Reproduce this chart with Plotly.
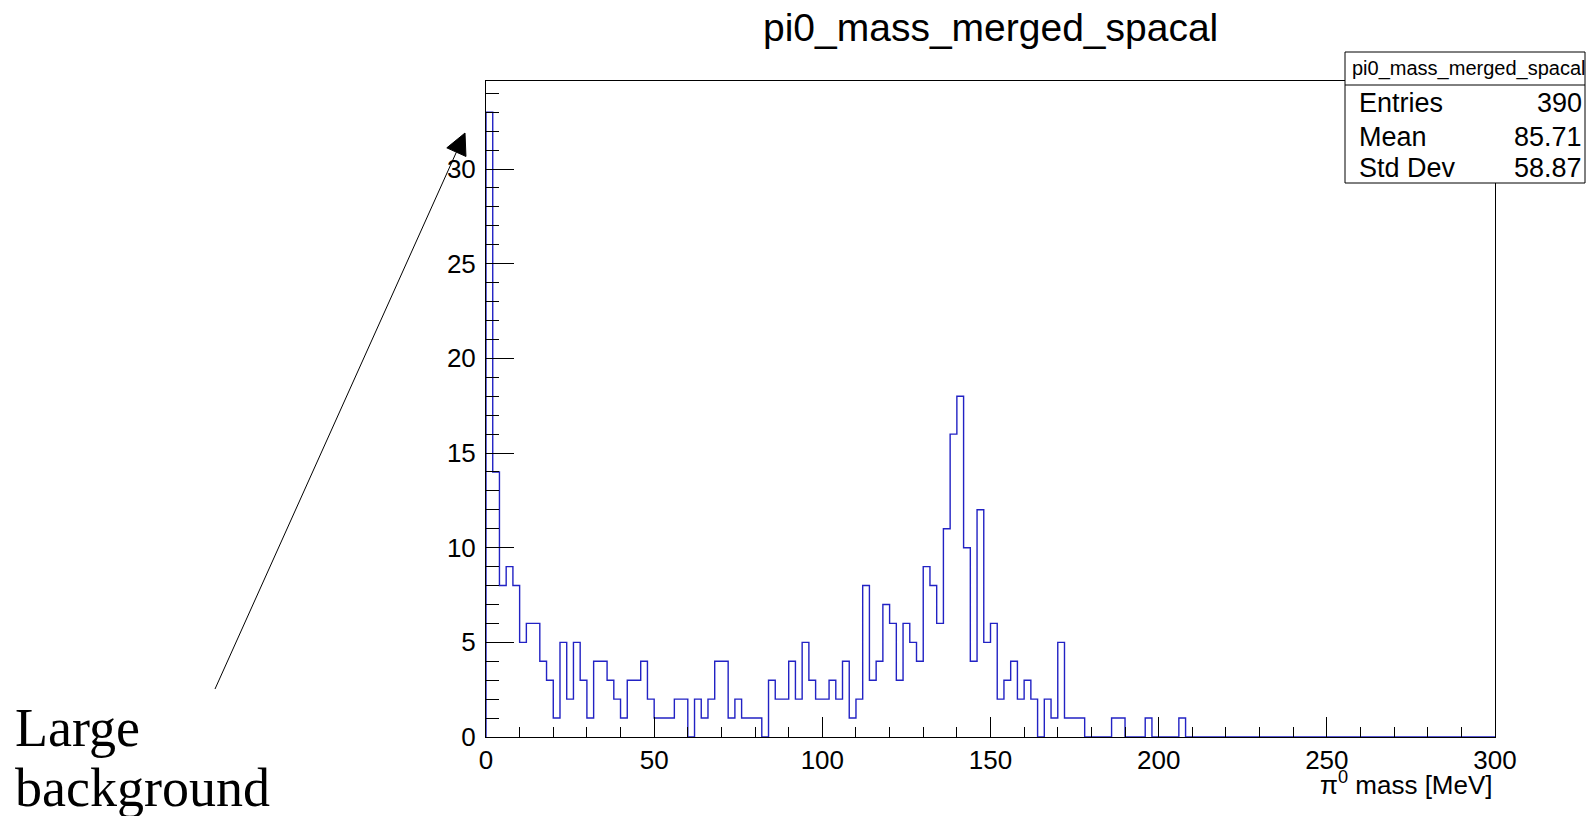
import math
import plotly.graph_objects as go

# ---- histogram content: 150 bins of 2 MeV between 0 and 300 MeV ----
x_min, x_max, n_bins = 0.0, 300.0, 150
counts = [
    33, 14, 8, 9, 8, 5, 6, 6, 4, 3,
    1, 5, 2, 5, 3, 1, 4, 4, 3, 2,
    1, 3, 3, 4, 2, 1, 1, 1, 2, 2,
    0, 2, 1, 2, 4, 4, 1, 2, 1, 1,
    1, 0, 3, 2, 2, 4, 2, 5, 3, 2,
    2, 3, 2, 4, 1, 2, 8, 3, 4, 7,
    6, 3, 6, 5, 4, 9, 8, 6, 11, 16,
    18, 10, 4, 12, 5, 6, 2, 3, 4, 2,
    3, 2, 0, 2, 1, 5, 1, 1, 1, 0,
    0, 0, 0, 1, 1, 0, 0, 0, 1, 0,
    0, 0, 0, 1, 0, 0, 0, 0, 0, 0,
    0, 0, 0, 0, 0, 0, 0, 0, 0, 0,
    0, 0, 0, 0, 0, 0, 0, 0, 0, 0,
    0, 0, 0, 0, 0, 0, 0, 0, 0, 0,
    0, 0, 0, 0, 0, 0, 0, 0, 0, 0,
]

hist_name = "pi0_mass_merged_spacal"
stat_labels = ["Entries", "Mean", "Std Dev"]
stat_values = ["390", "85.71", "58.87"]
x_title = "\u03c0<sup>0</sup> mass [MeV]"
note_lines = ["Large", "background"]

# ---- page geometry (pixels) ----
W, H = 1586, 816
PLOT_L, PLOT_R, PLOT_T, PLOT_B = 486, 1495, 81, 737
y_top = max(counts) * 1.05

def fx(px):
    return (px - PLOT_L) / (PLOT_R - PLOT_L)

def fy(py):
    return (PLOT_B - py) / (PLOT_B - PLOT_T)

bw = (x_max - x_min) / n_bins
edges = [x_min + i * bw for i in range(n_bins + 1)]

# step outline: start on the baseline, climb to each bin top, close back down
xs = [edges[0]] + edges[:-1] + [edges[-1]]
ys = [0] + counts + [0]

fig = go.Figure()
fig.add_trace(go.Scatter(
    x=xs, y=ys, mode="lines",
    line=dict(color="#2222c4", width=1.4, shape="hv"),
    hoverinfo="skip", showlegend=False,
))

SANS = "Liberation Sans, Arial, Helvetica, sans-serif"
SERIF = "Liberation Serif, Times New Roman, serif"

fig.update_layout(
    width=W, height=H, autosize=False,
    margin=dict(l=PLOT_L, r=W - PLOT_R, t=PLOT_T, b=H - PLOT_B, pad=0),
    paper_bgcolor="white", plot_bgcolor="white",
    showlegend=False,
)

fig.update_xaxes(
    range=[x_min, x_max], showgrid=False, zeroline=False,
    showline=True, linecolor="black", linewidth=1, mirror=True,
    ticks="inside", ticklen=20, tickwidth=1, tickcolor="black",
    tick0=0, dtick=50, ticklabelstandoff=0,
    tickfont=dict(family=SANS, size=26, color="black"),
    minor=dict(ticks="inside", ticklen=10, tickwidth=1, tickcolor="black", dtick=10, tick0=0),
)
fig.update_yaxes(
    range=[0, y_top], showgrid=False, zeroline=False,
    showline=True, linecolor="black", linewidth=1, mirror=True,
    ticks="inside", ticklen=28, tickwidth=1, tickcolor="black",
    tick0=0, dtick=5, ticklabelstandoff=4,
    tickfont=dict(family=SANS, size=26, color="black"),
    minor=dict(ticks="inside", ticklen=13, tickwidth=1, tickcolor="black", dtick=1, tick0=0),
)

shapes = []
annotations = []

# title above the frame
annotations.append(dict(
    text=hist_name, xref="paper", yref="paper",
    x=fx((PLOT_L + PLOT_R) / 2), y=fy(28), xanchor="center", yanchor="middle",
    showarrow=False, font=dict(family=SANS, size=39, color="black"),
))

# x axis title, right aligned under the frame
annotations.append(dict(
    text=x_title, xref="paper", yref="paper",
    x=fx(PLOT_R), y=fy(783), xanchor="right", yanchor="middle",
    showarrow=False, font=dict(family=SANS, size=26, color="black"),
))

# statistics box
box_l, box_r, box_t, box_head, box_b = 1345, 1585, 52, 85, 183
shapes.append(dict(
    type="rect", xref="paper", yref="paper",
    x0=fx(box_l), x1=fx(box_r), y0=fy(box_b), y1=fy(box_t),
    line=dict(color="black", width=1), fillcolor="white", layer="above",
))
shapes.append(dict(
    type="line", xref="paper", yref="paper",
    x0=fx(box_l), x1=fx(box_r), y0=fy(box_head), y1=fy(box_head),
    line=dict(color="black", width=1), layer="above",
))
annotations.append(dict(
    text=hist_name, xref="paper", yref="paper",
    x=fx((box_l + box_r) / 2 + 3), y=fy(69), xanchor="center", yanchor="middle",
    showarrow=False, font=dict(family=SANS, size=20, color="black"),
))
row_centres = [103, 136.5, 167.5]
for lab, val, yc in zip(stat_labels, stat_values, row_centres):
    annotations.append(dict(
        text=lab, xref="paper", yref="paper", x=fx(1357), y=fy(yc),
        xanchor="left", yanchor="middle", showarrow=False,
        font=dict(family=SANS, size=27, color="black"),
    ))
    annotations.append(dict(
        text=val, xref="paper", yref="paper", x=fx(1584), y=fy(yc),
        xanchor="right", yanchor="middle", showarrow=False,
        font=dict(family=SANS, size=27, color="black"),
    ))

# hand-drawn style arrow pointing at the first bins
tail = (215.0, 689.0)
tip = (465.0, 133.0)
head_len, head_half = 21.0, 10.5
dx, dy = tip[0] - tail[0], tip[1] - tail[1]
L = math.hypot(dx, dy)
ux, uy = dx / L, dy / L
bx, by = tip[0] - head_len * ux, tip[1] - head_len * uy
nx, ny = -uy, ux
p1 = (bx + head_half * nx, by + head_half * ny)
p2 = (bx - head_half * nx, by - head_half * ny)
shapes.append(dict(
    type="line", xref="paper", yref="paper",
    x0=fx(tail[0]), y0=fy(tail[1]), x1=fx(bx), y1=fy(by),
    line=dict(color="black", width=1), layer="above",
))
shapes.append(dict(
    type="path", xref="paper", yref="paper",
    path=f"M {fx(tip[0])} {fy(tip[1])} L {fx(p1[0])} {fy(p1[1])} L {fx(p2[0])} {fy(p2[1])} Z",
    fillcolor="black", line=dict(color="black", width=1), layer="above",
))

# note text in the lower left corner
for line_text, yc in zip(note_lines, [728, 788]):
    annotations.append(dict(
        text=line_text, xref="paper", yref="paper", x=fx(13), y=fy(yc),
        xanchor="left", yanchor="middle", showarrow=False,
        font=dict(family=SERIF, size=54, color="black"),
    ))

fig.update_layout(shapes=shapes, annotations=annotations)
fig.write_html("out.html")
